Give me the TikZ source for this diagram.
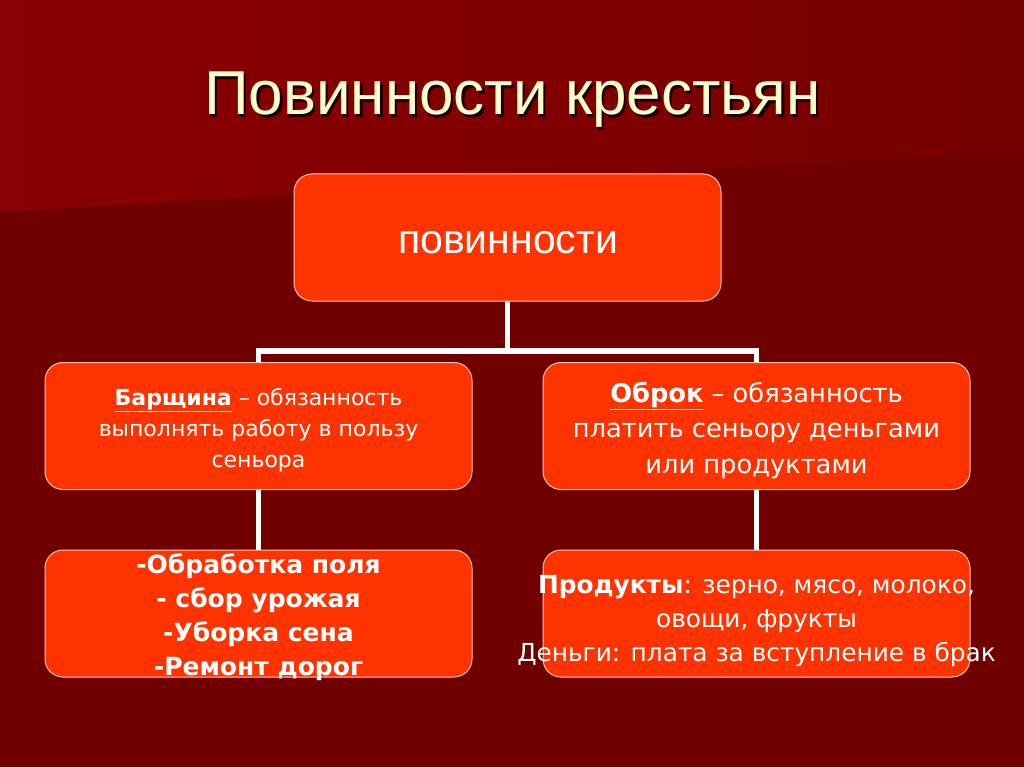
\documentclass[tikz,border=0pt]{standalone}
\usepackage{fontspec}
\setmainfont{DejaVu Sans}
\newfontfamily\titlefont{Liberation Sans}
\newfontfamily\boxfont{DejaVu Sans}
\definecolor{bglow}{HTML}{700000}
\definecolor{bgtopL}{HTML}{8B0000}
\definecolor{bgtopR}{HTML}{760000}
\definecolor{boxfill}{HTML}{FF3300}
\definecolor{boxline}{HTML}{FFC8B0}
\definecolor{cream}{HTML}{FFFFCC}
\tikzset{
  box/.style={draw=boxline, line width=1pt, fill=boxfill, rounded corners=18pt,
    minimum width=427pt, minimum height=127pt, inner sep=0pt},
  conn/.style={draw=white, line width=5.5pt},
  boxtext/.style={text=white, align=center, inner sep=0pt},
}
\begin{document}
\begin{tikzpicture}[x=1pt,y=-1pt]
\useasboundingbox (0,0) rectangle (1024,767);
% background
\fill[bglow] (0,0) rectangle (1024,767);
\shade[left color=bgtopL, right color=bgtopR] (0,0) -- (1024,0) -- (1024,150) -- (0,212) -- cycle;
% title
\node[anchor=base, text=black, opacity=0.8, font=\titlefont\fontsize{62}{62}\selectfont] (titleshadow) at (515,118) {Повинности крестьян};
\node[anchor=base, text=cream, font=\titlefont\fontsize{62}{62}\selectfont] (title) at (512.5,115) {Повинности крестьян};
% connectors
\coordinate (j) at (507.5,351);
\coordinate (topS) at (507.5,300);
\coordinate (barshN) at (258.5,362);
\coordinate (obrokN) at (756.5,362);
\draw[conn] (topS) -- (j);
\draw[conn] (barshN) |- (j) -| (obrokN);
% boxes
\node[box] (top) at (507.5,237.5) {};
\node[box] (barsh) at (258.5,426) {};
\node[box] (obrok) at (756.5,426) {};
\node[box] (barshlist) at (258.5,613.5) {};
\node[box] (obroklist) at (756.5,613.5) {};
\draw[conn] (barsh.south) -- (barshlist.north);
\draw[conn] (obrok.south) -- (obroklist.north);
% texts
\node[boxtext, anchor=base, font=\titlefont\fontsize{41}{41}\selectfont] (toptext) at (508,253) {повинности};
\node[boxtext, font=\boxfont\fontsize{22}{31}\selectfont] (barshtext) at (258.5,430) {\underline{\textbf{Барщина}} – обязанность\\выполнять работу в пользу\\сеньора};
\node[boxtext, font=\boxfont\fontsize{25.7}{35.5}\selectfont] (obroktext) at (756.5,430) {\underline{\textbf{Оброк}} – обязанность\\платить сеньору деньгами\\или продуктами};
\node[boxtext, font=\boxfont\bfseries\fontsize{25}{34}\selectfont] (barshlisttext) at (258.5,617) {-Обработка поля\\- сбор урожая\\-Уборка сена\\-Ремонт дорог};
\node[boxtext, font=\boxfont\fontsize{24.8}{34}\selectfont] (obroklisttext) at (756.5,621) {\textbf{Продукты}: зерно, мясо, молоко,\\овощи, фрукты\\Деньги: плата за вступление в брак};
\end{tikzpicture}
\end{document}
